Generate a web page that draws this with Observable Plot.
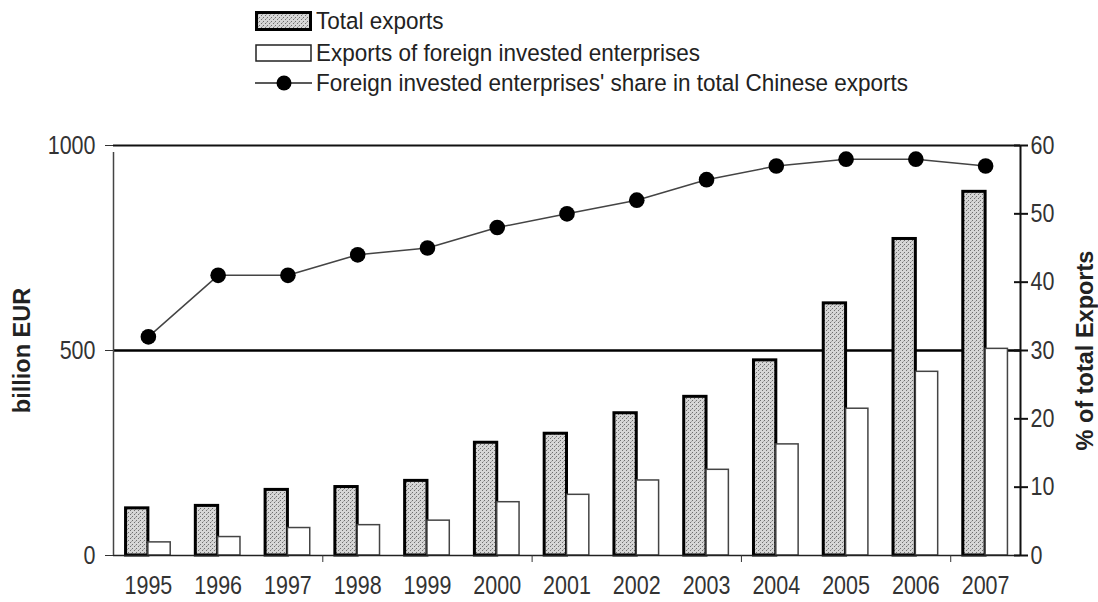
<!DOCTYPE html>
<html>
<head>
<meta charset="utf-8">
<script src="https://cdn.jsdelivr.net/npm/d3@7"></script>
<script src="https://cdn.jsdelivr.net/npm/@observablehq/plot@0.6"></script>
<style>
  body { margin: 0; background: #fff; font-family: "Liberation Sans", Arial, sans-serif; }
  #wrap { width: 1098px; height: 602px; position: relative; overflow: hidden; }
  #legend { position: relative; height: 100px; }
  .item { position: absolute; left: 255px; display: flex; align-items: center; font-size: 22.5px; color: #222; white-space: nowrap; }
  .item span { display: inline-block; transform: scaleY(1.08); }
  .item svg { display: block; margin-right: 3px; }
</style>
</head>
<body>
<div id="wrap">
  <div id="legend">
    <div class="item" style="top:8px">
      <svg width="58" height="24"><rect x="1.5" y="3.5" width="54" height="17" fill="url(#dotsLeg)" stroke="#000" stroke-width="3"/>
        <defs><pattern id="dotsLeg" width="4" height="4" patternUnits="userSpaceOnUse"><rect width="4" height="4" fill="#d6d6d6"/><rect x="0" y="0" width="1" height="1" fill="#707070"/><rect x="2" y="2" width="1" height="1" fill="#707070"/><rect x="3" y="1" width="1" height="1" fill="#a8a8a8"/></pattern></defs>
      </svg><span>Total exports</span>
    </div>
    <div class="item" style="top:40px">
      <svg width="58" height="24"><rect x="1" y="4" width="55" height="16" fill="#fff" stroke="#222" stroke-width="1.5"/></svg><span>Exports of foreign invested enterprises</span>
    </div>
    <div class="item" style="top:70px">
      <svg width="58" height="24"><line x1="0" x2="57" y1="12" y2="12" stroke="#222" stroke-width="1.5"/><circle cx="29" cy="12" r="7.5" fill="#000"/></svg><span>Foreign invested enterprises' share in total Chinese exports</span>
    </div>
  </div>
  <div id="chart"></div>
</div>
<script>
const years = [1995, 1996, 1997, 1998, 1999, 2000, 2001, 2002, 2003, 2004, 2005, 2006, 2007];
const totalExports = [115, 121, 160, 167, 182, 275, 297, 347, 387, 476, 615, 772, 887];
const fieExports = [32, 45, 67, 74, 85, 130, 148, 183, 209, 271, 358, 448, 504];
const fieShare = [32, 41, 41, 44, 45, 48, 50, 52, 55, 57, 58, 58, 57];
const leftTicks = [0, 500, 1000];
const rightTicks = [0, 10, 20, 30, 40, 50, 60];
const xTickMarks = [1997.5, 2000.5, 2003.5, 2006.5];

const rows = years.map((year, i) => ({ year, total: totalExports[i], fie: fieExports[i], share: fieShare[i] }));
const k = 1000 / 60; // maps % to left scale
const half = 0.32;

const chart = Plot.plot({
  width: 1098,
  height: 502,
  marginTop: 45,
  marginBottom: 47,
  marginLeft: 113,
  marginRight: 78,
  style: { fontFamily: "'Liberation Sans', Arial, sans-serif", fontSize: "22px", color: "#333", background: "#fff" },
  x: { type: "linear", domain: [1994.5, 2007.5], axis: null },
  y: { domain: [0, 1000], axis: null },
  marks: [
    Plot.ruleY([500], { stroke: "#000", strokeWidth: 2.5 }),
    Plot.ruleY([1000], { stroke: "#111", strokeWidth: 2 }),
    Plot.rectY(rows, { x1: d => d.year - half, x2: d => d.year, y: "total", fill: "url(#dots)", stroke: "#000", strokeWidth: 3 }),
    Plot.rectY(rows, { x1: d => d.year, x2: d => d.year + half, y: "fie", fill: "#fff", stroke: "#444", strokeWidth: 1.5 }),
    Plot.ruleY([0], { stroke: "#222", strokeWidth: 1.5 }),
    Plot.ruleX([1994.5], { y1: 0, y2: 1000, stroke: "#444", strokeWidth: 1.5, insetBottom: -7 }),
    Plot.ruleX([2007.5], { y1: 0, y2: 1000, stroke: "#111", strokeWidth: 2 }),
    Plot.axisY({ anchor: "left", ticks: leftTicks, tickSize: 8, tickPadding: 10, tickFormat: d => String(d), label: null, stroke: "#333", fill: "#333", fontSize: 21.5 }),
    Plot.axisY({ anchor: "right", ticks: rightTicks.map(v => v * k), tickFormat: d => String(Math.round(d / k)), tickSize: 14, dx: -7, tickPadding: 3, label: null, stroke: "#111", strokeWidth: 2, fill: "#333", fontSize: 21.5 }),
    Plot.axisX({ ticks: years, tickSize: 0, tickPadding: 22, tickFormat: d => String(d), label: null, fill: "#333", fontSize: 21.5 }),
    Plot.axisX({ ticks: xTickMarks, tickSize: 7, tickFormat: () => "", label: null, stroke: "#333" }),
    Plot.line(rows, { x: "year", y: d => d.share * k, stroke: "#444", strokeWidth: 1.5 }),
    Plot.dot(rows, { x: "year", y: d => d.share * k, r: 7.8, fill: "#000", stroke: "none" }),
    Plot.text(["billion EUR"], { frameAnchor: "left", textAnchor: "middle", rotate: -90, dx: -91, fontWeight: "bold", fontSize: 23.5, fill: "#222" }),
    Plot.text(["% of total Exports"], { frameAnchor: "right", textAnchor: "middle", rotate: -90, dx: 65, fontWeight: "bold", fontSize: 23.5, fill: "#222" })
  ]
});

d3.select(chart).insert("defs", ":first-child").html(
  '<pattern id="dots" width="4" height="4" patternUnits="userSpaceOnUse">' +
  '<rect width="4" height="4" fill="#d6d6d6"/>' +
  '<rect x="0" y="0" width="1" height="1" fill="#707070"/>' +
  '<rect x="2" y="2" width="1" height="1" fill="#707070"/>' +
  '<rect x="3" y="1" width="1" height="1" fill="#a8a8a8"/>' +
  '</pattern>'
);
document.getElementById("chart").appendChild(chart);

// the reference's tick labels are drawn slightly taller than wide: stretch them vertically about their centres
d3.select(chart).selectAll('g[aria-label$="tick label"] text').each(function () {
  if (!this.textContent) return;
  const b = this.getBBox();
  const cx = b.x + b.width / 2, cy = b.y + b.height / 2;
  const t = this.getAttribute("transform") || "";
  this.setAttribute("transform", `${t} translate(${cx},${cy}) scale(1,1.2) translate(${-cx},${-cy})`);
});
</script>
</body>
</html>
